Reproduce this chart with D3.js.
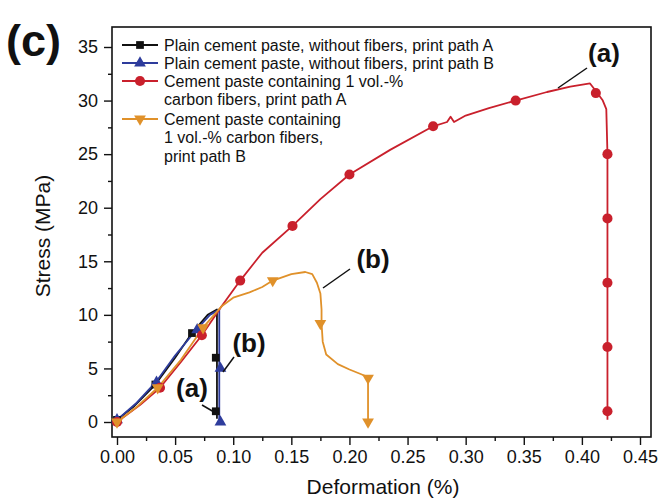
<!DOCTYPE html>
<html>
<head>
<meta charset="utf-8">
<script src="https://cdn.jsdelivr.net/npm/d3@7"></script>
<style>
  body { margin: 0; background: #fff; }
  svg { font-family: "Liberation Sans", Arial, sans-serif; }
</style>
</head>
<body>
<div id="chart"></div>
<script>
/*
Stress vs deformation, cement paste with / without carbon fibers
 */

// line points [deformation %, stress MPa]
var plainA = [[0, 0.2], [0.015, 1.5], [0.033, 3.5], [0.05, 6.0], [0.0645, 8.3], [0.078, 10.0], [0.086, 10.5], [0.086, 6.0], [0.086, 1.0], [0.086, 0.3]];
var plainB = [[0, 0.2], [0.017, 1.8], [0.034, 3.8], [0.05, 6.2], [0.069, 8.7], [0.08, 10.0], [0.088, 10.5], [0.088, 5.0], [0.088, 0]];
var fiberA = [[0, 0], [0.02, 1.6], [0.037, 3.2], [0.055, 5.6], [0.073, 8.1], [0.09, 10.8], [0.106, 13.2], [0.125, 15.8],
    [0.151, 18.3], [0.175, 20.8], [0.2, 23.1], [0.235, 25.4], [0.272, 27.6], [0.284, 28.0], [0.287, 28.5], [0.29, 28.0],
    [0.3, 28.6], [0.32, 29.3], [0.343, 30.0], [0.37, 30.8], [0.39, 31.3], [0.407, 31.6], [0.412, 30.9], [0.418, 30.0],
    [0.421, 29.2], [0.422, 25], [0.422, 0.2]];
var fiberB = [[0, 0], [0.018, 1.5], [0.035, 3.2], [0.055, 5.8], [0.074, 8.8], [0.09, 10.8], [0.1, 11.6], [0.114, 12.1],
    [0.125, 12.6], [0.134, 13.2], [0.15, 13.8], [0.162, 14.0], [0.168, 13.8], [0.172, 13.0], [0.175, 12.0], [0.176, 10.5],
    [0.176, 9.2], [0.177, 7.5], [0.18, 6.3], [0.19, 5.4], [0.2, 4.9], [0.216, 4.2], [0.216, 0]];

// marker points
var plainAMarks = [[0, 0.2], [0.033, 3.5], [0.0645, 8.3], [0.085, 6.0], [0.085, 1.0]];
var plainBMarks = [[0, 0.2], [0.034, 3.7], [0.069, 8.6], [0.089, 5.0], [0.089, 0]];
var fiberAMarks = [[0, 0], [0.037, 3.2], [0.073, 8.1], [0.106, 13.2], [0.151, 18.3], [0.2, 23.1], [0.272, 27.6],
    [0.343, 30.0], [0.412, 30.7], [0.422, 25.0], [0.422, 19.0], [0.422, 13.0], [0.422, 7.0], [0.422, 1.0]];
var fiberBMarks = [[0, 0], [0.035, 3.2], [0.074, 8.8], [0.134, 13.2], [0.175, 9.2], [0.216, 4.1], [0.216, 0]];

var xTicks = [0, 0.05, 0.1, 0.15, 0.2, 0.25, 0.3, 0.35, 0.4, 0.45];
var yTicks = [0, 5, 10, 15, 20, 25, 30, 35];

var legendLabels = [
    ["Plain cement paste, without fibers, print path A"],
    ["Plain cement paste, without fibers, print path B"],
    ["Cement paste containing 1 vol.-%", "carbon fibers, print path A"],
    ["Cement paste containing", "1 vol.-% carbon fibers,", "print path B"]
];

var series = [
    { line: plainA, marks: plainAMarks, color: "#111111", symbol: d3.symbolSquare, size: 60, rot: 0 },
    { line: plainB, marks: plainBMarks, color: "#2e3c9c", symbol: d3.symbolTriangle, size: 60, rot: 0 },
    { line: fiberA, marks: fiberAMarks, color: "#c9202c", symbol: d3.symbolCircle, size: 80, rot: 0 },
    { line: fiberB, marks: fiberBMarks, color: "#e0912a", symbol: d3.symbolTriangle, size: 60, rot: 180 }
];

var width = 663, height = 501;
var frame = { left: 112, right: 651, top: 27, bottom: 437 };

var svg = d3.select("#chart")
    .append("svg")
    .attr("width", width)
    .attr("height", height);

var x = d3.scaleLinear().domain([0, 0.45]).range([117, 640]);
var y = d3.scaleLinear().domain([0, 35]).range([422, 47]);

// frame
svg.append("rect")
    .attr("x", frame.left)
    .attr("y", frame.top)
    .attr("width", frame.right - frame.left)
    .attr("height", frame.bottom - frame.top)
    .style("fill", "none")
    .style("stroke", "#111")
    .style("stroke-width", 1.6);

// x axis, major + minor
var xMinor = d3.range(0.025, 0.45, 0.05);
svg.append("g")
    .attr("transform", "translate(0," + frame.bottom + ")")
    .call(d3.axisBottom(x).tickValues(xMinor).tickSize(4).tickFormat(""))
    .call(function(g) { g.select(".domain").remove(); });

var xAxis = svg.append("g")
    .attr("transform", "translate(0," + frame.bottom + ")")
    .call(d3.axisBottom(x).tickValues(xTicks).tickSize(8).tickPadding(5).tickFormat(d3.format(".2f")));
xAxis.select(".domain").remove();
xAxis.selectAll("text").style("font-size", "18px").style("fill", "#111");

// y axis, major + minor
var yMinor = d3.range(2.5, 35, 5);
svg.append("g")
    .attr("transform", "translate(" + frame.left + ",0)")
    .call(d3.axisLeft(y).tickValues(yMinor).tickSize(4).tickFormat(""))
    .call(function(g) { g.select(".domain").remove(); });

var yAxis = svg.append("g")
    .attr("transform", "translate(" + frame.left + ",0)")
    .call(d3.axisLeft(y).tickValues(yTicks).tickSize(8).tickPadding(6));
yAxis.select(".domain").remove();
yAxis.selectAll("text").style("font-size", "18px").style("fill", "#111");
svg.selectAll(".tick line").style("stroke", "#111").style("stroke-width", 1.4);

// axis titles
svg.append("text")
    .attr("x", 383)
    .attr("y", 494)
    .attr("text-anchor", "middle")
    .style("font-size", "21px")
    .style("fill", "#111")
    .text("Deformation (%)");

svg.append("text")
    .attr("transform", "translate(50,236) rotate(-90)")
    .attr("text-anchor", "middle")
    .style("font-size", "21px")
    .style("fill", "#111")
    .text("Stress (MPa)");

// panel label
svg.append("text")
    .attr("x", 6)
    .attr("y", 56)
    .style("font-size", "45px")
    .style("font-weight", "bold")
    .style("fill", "#111")
    .text("(c)");

// curves
var line = d3.line()
    .x(function(d) { return x(d[0]); })
    .y(function(d) { return y(d[1]); });

series.forEach(function(s) {
    svg.append("path")
        .datum(s.line)
        .attr("d", line)
        .style("fill", "none")
        .style("stroke", s.color)
        .style("stroke-width", 1.8)
        .style("stroke-linejoin", "round");
});

series.forEach(function(s) {
    svg.selectAll(null)
        .data(s.marks)
        .enter()
        .append("path")
        .attr("d", d3.symbol().type(s.symbol).size(s.size))
        .attr("transform", function(d) {
            return "translate(" + x(d[0]) + "," + y(d[1]) + ") rotate(" + s.rot + ")";
        })
        .style("fill", s.color);
});

// annotations
var notes = [
    { text: "(a)", tx: 604, ty: 62, from: [587, 68], to: [558, 88] },
    { text: "(b)", tx: 373, ty: 268, from: [350, 269], to: [323, 288] },
    { text: "(b)", tx: 249, ty: 352, from: [234, 357], to: [223, 372] },
    { text: "(a)", tx: 192, ty: 397, from: [202, 405], to: [214, 412] }
];

notes.forEach(function(n) {
    svg.append("line")
        .attr("x1", n.from[0]).attr("y1", n.from[1])
        .attr("x2", n.to[0]).attr("y2", n.to[1])
        .style("stroke", "#111")
        .style("stroke-width", 1.5);
    svg.append("text")
        .attr("x", n.tx)
        .attr("y", n.ty)
        .attr("text-anchor", "middle")
        .style("font-size", "26px")
        .style("font-weight", "bold")
        .style("fill", "#111")
        .text(n.text);
});

// legend
var rowY = [45, 63, 81, 119];
var legend = svg.append("g");

legendLabels.forEach(function(lines, i) {
    var s = series[i];
    legend.append("line")
        .attr("x1", 122).attr("x2", 158)
        .attr("y1", rowY[i]).attr("y2", rowY[i])
        .style("stroke", s.color)
        .style("stroke-width", 1.8);
    legend.append("path")
        .attr("d", d3.symbol().type(s.symbol).size(s.size))
        .attr("transform", "translate(140," + rowY[i] + ") rotate(" + s.rot + ")")
        .style("fill", s.color);
    var t = legend.append("text")
        .attr("x", 164)
        .attr("y", rowY[i] + 5.5)
        .style("font-size", "16px")
        .style("fill", "#111");
    t.selectAll("tspan")
        .data(lines)
        .enter()
        .append("tspan")
        .attr("x", 164)
        .attr("dy", function(d, j) { return j === 0 ? 0 : 18.5; })
        .text(function(d) { return d; });
});
</script>
</body>
</html>
